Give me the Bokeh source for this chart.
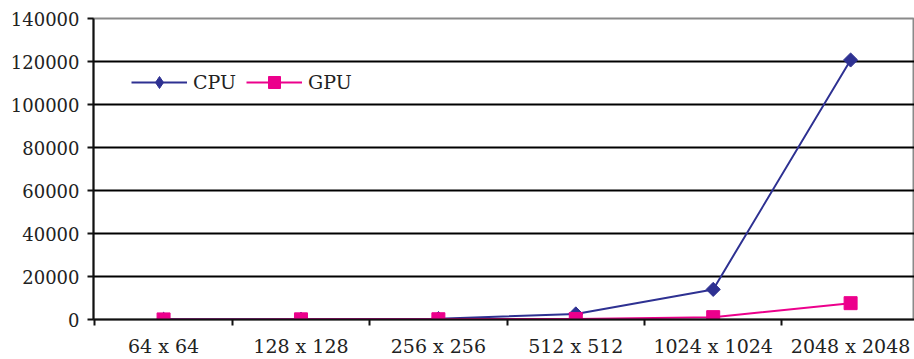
import math
from bokeh.plotting import figure
from bokeh.models import FixedTicker, Range1d, Legend, LegendItem, ColumnDataSource
from bokeh.embed import file_html
from bokeh.resources import INLINE

categories = ["64 x 64", "128 x 128", "256 x 256", "512 x 512", "1024 x 1024", "2048 x 2048"]
cpu = [60, 150, 400, 2600, 14000, 120700]
gpu = [40, 60, 120, 250, 1100, 7600]
y_ticks = [0, 20000, 40000, 60000, 80000, 100000, 120000, 140000]

xc = [i + 0.5 for i in range(len(categories))]
src = ColumnDataSource(dict(x=xc, cpu=cpu, gpu=gpu))

FONT = "DejaVu Serif"

p = figure(width=914, height=359, output_backend="svg", toolbar_location=None,
           x_range=Range1d(-0.01, 5.965), y_range=Range1d(0, 140000),
           min_border_left=93, min_border_right=0, min_border_top=18, min_border_bottom=40)

p.outline_line_color = "#8a8a8a"
p.outline_line_width = 2
p.background_fill_color = "white"
p.border_fill_color = "white"

# x axis: boundary ticks (minor) and centered labels
p.xaxis.ticker = FixedTicker(ticks=xc, minor_ticks=list(range(len(categories) + 1)))
p.xaxis.major_label_overrides = {x: c for x, c in zip(xc, categories)}
p.xaxis.major_tick_out = 0
p.xaxis.major_tick_in = 0
p.xaxis.minor_tick_out = 6
p.xaxis.minor_tick_in = 0
p.xaxis.minor_tick_line_color = "#111111"
p.xaxis.minor_tick_line_width = 2
p.xaxis.axis_line_color = "#111111"
p.xaxis.axis_line_width = 2
p.xaxis.major_label_text_font = FONT
p.xaxis.major_label_text_font_size = "19px"
p.xaxis.major_label_text_color = "#222222"
p.xaxis.major_label_standoff = 9

p.yaxis.ticker = FixedTicker(ticks=y_ticks)
p.yaxis.major_label_overrides = {t: str(t) for t in y_ticks}
p.yaxis.major_tick_out = 6
p.yaxis.major_tick_in = 0
p.yaxis.minor_tick_line_color = None
p.yaxis.major_tick_line_color = "#111111"
p.yaxis.major_tick_line_width = 2
p.yaxis.axis_line_color = "#111111"
p.yaxis.axis_line_width = 2
p.yaxis.major_label_text_font = FONT
p.yaxis.major_label_text_font_size = "18px"
p.yaxis.major_label_text_color = "#222222"
p.yaxis.major_label_standoff = 8

p.xgrid.grid_line_color = None
p.ygrid.ticker = FixedTicker(ticks=y_ticks[1:-1])
p.ygrid.grid_line_color = "#000000"
p.ygrid.grid_line_width = 2

CPU_C = "#2E3192"
GPU_C = "#EC008C"

l1 = p.line("x", "cpu", source=src, line_color=CPU_C, line_width=2)
m1 = p.scatter("x", "cpu", source=src, marker="square", angle=math.pi / 4, size=10,
               fill_color=CPU_C, line_color=CPU_C)
l2 = p.line("x", "gpu", source=src, line_color=GPU_C, line_width=2)
m2 = p.scatter("x", "gpu", source=src, marker="square", size=13, fill_color=GPU_C, line_color=GPU_C)

# legend-only marker (diamond shape) for the CPU entry; not drawn in the plot
leg_src = ColumnDataSource(dict(x=[float("nan")], y=[float("nan")]))
m1_leg = p.scatter("x", "y", source=leg_src, marker="diamond", size=16,
                   fill_color=CPU_C, line_color=CPU_C)

legend = Legend(items=[LegendItem(label="CPU", renderers=[l1, m1_leg]),
                       LegendItem(label="GPU", renderers=[l2, m2])],
                orientation="horizontal", location=(38, 222),
                label_text_font=FONT, label_text_font_size="19px", label_text_color="#222222",
                border_line_color=None, background_fill_alpha=0,
                glyph_width=56, glyph_height=30, spacing=10, label_standoff=6,
                padding=2, margin=0)
p.add_layout(legend, "center")

open("out.html", "w").write(file_html(p, INLINE))
